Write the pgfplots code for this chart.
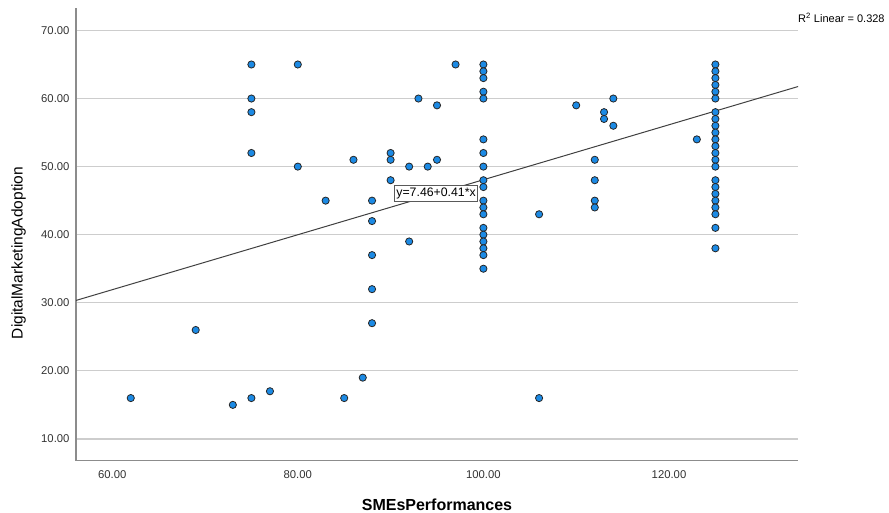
\documentclass[border=0pt]{standalone}
\usepackage{fontspec}
\setmainfont{Liberation Sans}
\usepackage{pgfplots}
\usepackage{pgfplotstable}
\pgfplotsset{compat=1.18}
\definecolor{dotblue}{RGB}{28,138,228}
\definecolor{gridgray}{RGB}{205,205,205}
\definecolor{axgray}{RGB}{140,140,140}
\definecolor{tickgray}{RGB}{50,50,50}
\pgfplotstableread{
x y
62 16
69 26
73 15
75 16
75 52
75 58
75 60
75 65
77 17
80 65
80 50
83 45
85 16
86 51
87 19
88 45
88 42
88 37
88 32
88 27
90 52
90 51
90 48
92 50
92 39
93 60
94 50
95 59
95 51
97 65
100 65
100 64
100 63
100 61
100 60
100 54
100 52
100 50
100 48
100 47
100 45
100 44
100 43
100 41
100 40
100 39
100 38
100 37
100 35
106 43
106 16
110 59
112 51
112 48
112 45
112 44
113 58
113 57
114 60
114 56
123 54
125 65
125 64
125 63
125 62
125 61
125 60
125 58
125 57
125 56
125 55
125 54
125 53
125 52
125 51
125 50
125 48
125 47
125 46
125 45
125 44
125 43
125 41
125 38
}\scatterdata
\pgfplotstableread{
x y
56 30.3
134 61.8
}\fitline
\begin{document}
\begin{tikzpicture}
\useasboundingbox (0,0) rectangle (889pt,513pt);
\begin{axis}[
  scale only axis,
  width=722pt, height=452.7pt,
  at={(76pt,52.3pt)}, anchor=south west,
  xmin=56.1, xmax=133.9,
  ymin=6.8, ymax=73.3,
  axis lines*=left,
  axis line style={-, draw=axgray, line width=1.1pt},
  xtick={60,80,100,120},
  ytick={10,20,30,40,50,60,70},
  major tick length=0pt,
  ymajorgrids,
  grid style={gridgray, line width=1.3pt},
  /pgf/number format/assume math mode=true,
  /pgf/number format/.cd, fixed, fixed zerofill, precision=2,
  /pgfplots/.cd,
  ticklabel style={font=\fontsize{11.3}{13}\selectfont, text=tickgray},
  yticklabel style={xshift=-3pt},
  xticklabel style={yshift=-6pt},
  xlabel={SMEsPerformances},
  ylabel={DigitalMarketingAdoption},
  xlabel style={at={(axis description cs:0.5,0)}, anchor=center, yshift=-44.3pt, font=\fontsize{16}{18}\selectfont\bfseries},
  ylabel style={at={([xshift=-57.3pt]axis description cs:0,0.4588)}, anchor=center, font=\fontsize{15.5}{18}\selectfont},
  clip=true,
]
\addplot[draw=black!75, line width=1pt] table[x=x,y=y] {\fitline};
\addplot[only marks, mark=*, mark size=3.6pt, mark options={fill=dotblue, draw=black!85, line width=0.8pt}] table[x=x,y=y] {\scatterdata};
\node[draw=black!65, fill=white, line width=1.1pt, inner sep=2pt, font=\fontsize{12.3}{13}\selectfont] at (axis cs:94.9,46.05) {y=7.46+0.41*x};
\end{axis}
\node[anchor=west, inner sep=0pt, font=\fontsize{11}{13}\selectfont] at (798pt,494.7pt) {R\textsuperscript{2} Linear = 0.328};
\end{tikzpicture}
\end{document}
